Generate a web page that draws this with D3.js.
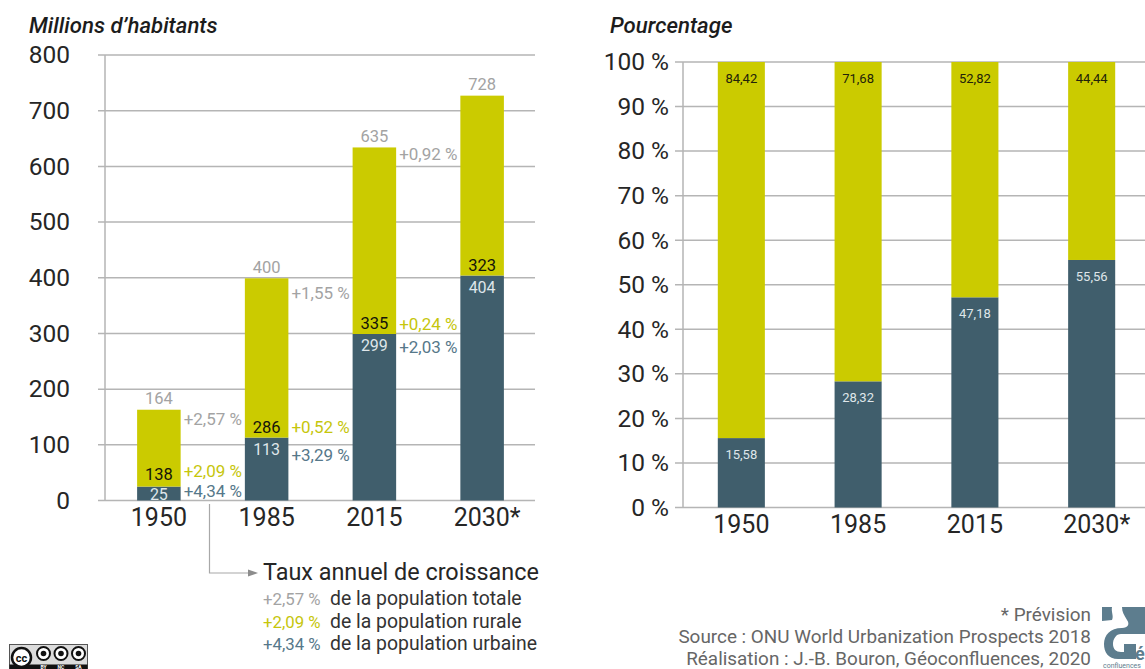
<!DOCTYPE html>
<html lang="fr">
<head>
<meta charset="utf-8">
<script src="https://cdn.jsdelivr.net/npm/d3@7"></script>
<style>
  html, body { margin: 0; padding: 0; background: #fff; overflow: hidden; }
  text { font-family: Roboto, sans-serif; }
</style>
</head>
<body>
<div id="chart"></div>
<script>
// --- Data ---
const years = ["1950", "1985", "2015", "2030*"];
const urban = [25, 113, 299, 404];
const rural = [138, 286, 335, 323];
const total = [164, 400, 635, 728];
const rateTotal = ["+2,57 %", "+1,55 %", "+0,92 %"];
const rateRural = ["+2,09 %", "+0,52 %", "+0,24 %"];
const rateUrban = ["+4,34 %", "+3,29 %", "+2,03 %"];
const shareUrban = [15.58, 28.32, 47.18, 55.56];
const shareRural = [84.42, 71.68, 52.82, 44.44];
const legendRows = [
  ["+2,57 %", "de la population totale"],
  ["+2,09 %", "de la population rurale"],
  ["+4,34 %", "de la population urbaine"]
];
const creditLines = [
  "* Prévision",
  "Source : ONU World Urbanization Prospects 2018",
  "Réalisation : J.-B. Bouron, Géoconfluences, 2020"
];

const width = 1145;
const height = 669;
const blue = "#405e6c";
const green = "#cbcb00";
const grey = "#a3a3a3";
const greenText = "#c6c60c";
const blueText = "#56788a";
const ink = "#262626";

const svg = d3.select("#chart").append("svg")
  .attr("width", width)
  .attr("height", height)
  .style("display", "block");

const comma = v => v.toFixed(2).replace(".", ",");

// shared frame: grid, axes, year labels
function frame(opts) {
  const g = svg.append("g");
  g.append("g").selectAll("line")
    .data(opts.y.ticks(opts.tickCount))
    .enter().append("line")
    .attr("x1", opts.gridLeft).attr("x2", opts.gridRight)
    .attr("y1", d => opts.y(d)).attr("y2", d => opts.y(d))
    .attr("stroke", "#b5b5b5").attr("stroke-width", 1.5);
  g.append("line")
    .attr("x1", opts.axisX).attr("x2", opts.axisX)
    .attr("y1", opts.y.range()[1]).attr("y2", opts.y.range()[0])
    .attr("stroke", "#b5b5b5").attr("stroke-width", 1.5);

  const yAxis = d3.axisLeft(opts.y).ticks(opts.tickCount).tickSize(0).tickFormat(opts.format);
  const ya = g.append("g").attr("transform", `translate(${opts.labelX},0)`).call(yAxis);
  ya.select(".domain").remove();
  ya.selectAll("text").attr("font-size", 24.5).attr("fill", ink).attr("x", 0).attr("dy", "0.32em").style("font-family", "Roboto");

  const xAxis = d3.axisBottom(opts.x).tickSize(0).tickPadding(0);
  const xa = g.append("g").attr("transform", `translate(0,${opts.yearY})`).call(xAxis);
  xa.select(".domain").remove();
  // the asterisk of 2030* hangs to the right of the centred digits
  xa.selectAll("text").attr("font-size", 25).attr("fill", ink).attr("dy", 0).style("font-family", "Roboto")
    .attr("dx", d => d.endsWith("*") ? 5 : 0);

  svg.append("text").attr("x", opts.titleX).attr("y", 33)
    .attr("font-size", 22.2).attr("font-style", "italic").attr("font-weight", 500)
    .attr("fill", "#1c1c1c").text(opts.title);
  return g;
}

// --- Left panel: millions ---
const xL = d3.scaleBand().domain(years).range([105, 536]).paddingInner(0.596).paddingOuter(0.298);
const yL = d3.scaleLinear().domain([0, 800]).range([500.5, 55]);

frame({
  x: xL, y: yL, tickCount: 8, format: d3.format("d"),
  gridLeft: 98, gridRight: 535, axisX: 105, labelX: 70, yearY: 526,
  title: "Millions d’habitants", titleX: 29
});

const left = svg.append("g");
left.selectAll("rect.urban").data(years).enter().append("rect")
  .attr("x", d => xL(d)).attr("width", xL.bandwidth())
  .attr("y", (d, i) => yL(urban[i]))
  .attr("height", (d, i) => yL(0) - yL(urban[i]))
  .attr("fill", blue);
left.selectAll("rect.rural").data(years).enter().append("rect")
  .attr("x", d => xL(d)).attr("width", xL.bandwidth())
  .attr("y", (d, i) => yL(urban[i] + rural[i]))
  .attr("height", (d, i) => yL(urban[i]) - yL(urban[i] + rural[i]))
  .attr("fill", green);

// value labels
left.selectAll("text.tot").data(years).enter().append("text")
  .attr("x", d => xL(d) + xL.bandwidth() / 2)
  .attr("y", (d, i) => yL(total[i]) - 5)
  .attr("text-anchor", "middle").attr("font-size", 16.5).attr("fill", grey)
  .text((d, i) => total[i]);
left.selectAll("text.rur").data(years).enter().append("text")
  .attr("x", d => xL(d) + xL.bandwidth() / 2)
  .attr("y", (d, i) => yL(urban[i]) - (i === 0 ? 7 : 5))
  .attr("text-anchor", "middle").attr("font-size", 16.5).attr("fill", "#14140a")
  .text((d, i) => rural[i]);
left.selectAll("text.urb").data(years).enter().append("text")
  .attr("x", d => xL(d) + xL.bandwidth() / 2)
  .attr("y", (d, i) => i === 0 ? yL(0) - 1 : yL(urban[i]) + 17)
  .attr("text-anchor", "middle").attr("font-size", 16).attr("fill", "#dfe6ea")
  .text((d, i) => urban[i]);

// growth rates, sitting in the gap to the right of each bar
const gapX = i => xL(years[i]) + xL.bandwidth() + 3;
left.selectAll("text.rt").data(rateTotal).enter().append("text")
  .attr("x", (d, i) => gapX(i)).attr("y", (d, i) => yL(total[i]) + [16, 21, 13][i])
  .attr("font-size", 17).attr("fill", grey).text(d => d);
left.selectAll("text.rr").data(rateRural).enter().append("text")
  .attr("x", (d, i) => gapX(i)).attr("y", (d, i) => yL(urban[i]) - [10, 5, 4][i])
  .attr("font-size", 17).attr("fill", greenText).text(d => d);
left.selectAll("text.ru").data(rateUrban).enter().append("text")
  .attr("x", (d, i) => gapX(i)).attr("y", (d, i) => yL(urban[i]) + [10, 23, 19][i])
  .attr("font-size", 17).attr("fill", blueText).text(d => d);

// --- Legend of growth rates ---
const legend = svg.append("g");
legend.append("path")
  .attr("d", "M209.5,504V573H248")
  .attr("fill", "none").attr("stroke", "#a8a8a8").attr("stroke-width", 1.2);
legend.append("path").attr("d", "M248,569.5L258,573L248,576.5Z").attr("fill", "#8c8c8c");
legend.append("text").attr("x", 263).attr("y", 580)
  .attr("font-size", 23.4).attr("fill", ink).text("Taux annuel de croissance");
const legendColors = [grey, greenText, blueText];
legendRows.forEach((row, i) => {
  const yy = 605 + i * 22.5;
  legend.append("text").attr("x", 263).attr("y", yy)
    .attr("font-size", 16.8).attr("fill", legendColors[i]).text(row[0]);
  legend.append("text").attr("x", 330).attr("y", yy)
    .attr("font-size", 19.4).attr("fill", "#333").text(row[1]);
});

// --- Right panel: percentages ---
const xR = d3.scaleBand().domain(years).range([683, 1150]).paddingInner(0.597).paddingOuter(0.298);
const yR = d3.scaleLinear().domain([0, 100]).range([507.5, 62]);

frame({
  x: xR, y: yR, tickCount: 10, format: d => d + " %",
  gridLeft: 675, gridRight: 1145, axisX: 683, labelX: 669, yearY: 533,
  title: "Pourcentage", titleX: 610
});

const right = svg.append("g");
right.selectAll("rect.urban").data(years).enter().append("rect")
  .attr("x", d => xR(d)).attr("width", xR.bandwidth())
  .attr("y", (d, i) => yR(shareUrban[i]))
  .attr("height", (d, i) => yR(0) - yR(shareUrban[i]))
  .attr("fill", blue);
right.selectAll("rect.rural").data(years).enter().append("rect")
  .attr("x", d => xR(d)).attr("width", xR.bandwidth())
  .attr("y", yR(100))
  .attr("height", (d, i) => yR(shareUrban[i]) - yR(100))
  .attr("fill", green);
right.selectAll("text.sr").data(years).enter().append("text")
  .attr("x", d => xR(d) + xR.bandwidth() / 2).attr("y", yR(100) + 21)
  .attr("text-anchor", "middle").attr("font-size", 13).attr("fill", "#22220a")
  .text((d, i) => comma(shareRural[i]));
right.selectAll("text.su").data(years).enter().append("text")
  .attr("x", d => xR(d) + xR.bandwidth() / 2)
  .attr("y", (d, i) => yR(shareUrban[i]) + 21)
  .attr("text-anchor", "middle").attr("font-size", 13).attr("fill", "#dfe6ea")
  .text((d, i) => comma(shareUrban[i]));

// --- Credits ---
svg.append("g").selectAll("text").data(creditLines).enter().append("text")
  .attr("x", 1091).attr("y", (d, i) => 621 + i * 21.8)
  .attr("text-anchor", "end").attr("font-size", 18.9).attr("fill", "#666")
  .text(d => d);

// logo, runs into the page edge
const logo = svg.append("g").attr("fill", "#5d7d8e");
logo.append("path").attr("d", "M1102,607H1112C1111,612 1114,616 1112,620L1102,621Z");
logo.append("path").attr("d", "M1122,607H1145V634H1121C1116,634 1113,639 1113,644C1113,649 1116,652 1121,652H1124V644H1136V659H1118C1108,659 1104,652 1104,644C1104,635 1110,628 1122,628C1128,628 1130,624 1127,620C1124,615 1122,612 1122,607Z");
logo.append("text").attr("x", 1135).attr("y", 660).attr("font-size", 18).attr("font-weight", 700).text("é");
logo.append("text").attr("x", 1103).attr("y", 667.5).attr("font-size", 7).text("confluences");

// creative commons badge
const cc = svg.append("g").attr("transform", "translate(9.5,644.5)");
cc.append("rect").attr("width", 78).attr("height", 25).attr("fill", "#dcdcdc").attr("stroke", "#555");
cc.append("rect").attr("y", 20).attr("width", 78).attr("height", 5).attr("fill", "#111");
const badgeIcons = ["by", "nc", "sa"];
cc.append("circle").attr("cx", 12).attr("cy", 13).attr("r", 9.5)
  .attr("fill", "#fff").attr("stroke", "#111").attr("stroke-width", 2.5);
cc.append("text").attr("x", 12).attr("y", 17).attr("text-anchor", "middle")
  .attr("font-size", 11).attr("font-weight", 700).attr("fill", "#111").text("cc");
cc.selectAll("circle.icon").data(badgeIcons).enter().append("circle")
  .attr("cx", (d, i) => 34 + i * 17.5).attr("cy", 9)
  .attr("r", 6.5)
  .attr("fill", "#fff").attr("stroke", "#111").attr("stroke-width", 2);
cc.selectAll("circle.inner").data(badgeIcons).enter().append("circle")
  .attr("cx", (d, i) => 34 + i * 17.5).attr("cy", 9)
  .attr("r", 2.8)
  .attr("fill", "#111");
cc.selectAll("text.tag").data(badgeIcons).enter().append("text")
  .attr("x", (d, i) => 34 + i * 17.5).attr("y", 24.5)
  .attr("text-anchor", "middle").attr("font-size", 5).attr("font-weight", 700).attr("fill", "#fff")
  .text(d => d.toUpperCase());
</script>
</body>
</html>
